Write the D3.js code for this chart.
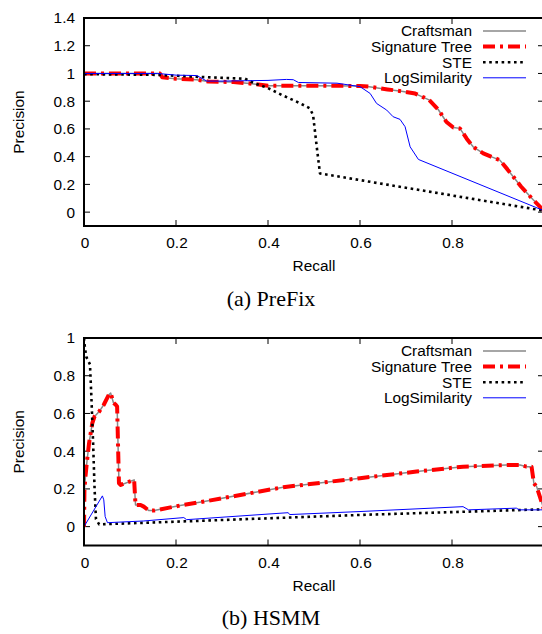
<!DOCTYPE html>
<html>
<head>
<meta charset="utf-8">
<script src="https://cdn.jsdelivr.net/npm/d3@7"></script>
<style>
  body { margin: 0; background: #fff; }
  svg { display: block; }
  text { font-family: "Liberation Sans", Arial, sans-serif; fill: #000; }
  .cap { font-family: "Liberation Serif", "Times New Roman", serif; }
</style>
</head>
<body>
<svg id="chart" width="542" height="634"></svg>
<script>
// ---------- DATA ----------
const seriesNames = ["Craftsman", "Signature Tree", "STE", "LogSimilarity"];
const xTickValues = [0, 0.2, 0.4, 0.6, 0.8];
const yTicksPrefix = [0, 0.2, 0.4, 0.6, 0.8, 1, 1.2, 1.4];
const yTicksHsmm = [0, 0.2, 0.4, 0.6, 0.8, 1];

// (a) PreFix
const prefixRecallCraftsman = [0, 0.165, 0.17, 0.2, 0.245, 0.27, 0.325, 0.36, 0.4, 0.5, 0.6, 0.62, 0.66, 0.69, 0.72, 0.75, 0.77, 0.788, 0.803, 0.817, 0.832, 0.846, 0.868, 0.885, 0.904, 0.925, 0.95, 0.977, 1.0];
const prefixPrecisionCraftsman = [1.0, 1.0, 0.97, 0.962, 0.955, 0.942, 0.938, 0.928, 0.912, 0.912, 0.91, 0.905, 0.885, 0.872, 0.855, 0.81, 0.74, 0.65, 0.61, 0.604, 0.53, 0.471, 0.424, 0.40, 0.375, 0.29, 0.185, 0.087, 0.01];
const prefixRecallSig = [0, 0.165, 0.17, 0.2, 0.245, 0.27, 0.325, 0.36, 0.4, 0.5, 0.6, 0.62, 0.66, 0.69, 0.72, 0.75, 0.77, 0.788, 0.803, 0.817, 0.832, 0.846, 0.868, 0.885, 0.904, 0.925, 0.95, 0.977, 1.0];
const prefixPrecisionSig = [1.0, 1.0, 0.972, 0.962, 0.955, 0.942, 0.938, 0.928, 0.912, 0.912, 0.91, 0.905, 0.885, 0.872, 0.855, 0.81, 0.74, 0.65, 0.61, 0.604, 0.53, 0.471, 0.424, 0.40, 0.375, 0.29, 0.185, 0.087, 0.01];
const prefixRecallSTE = [0, 0.16, 0.25, 0.35, 0.37, 0.40, 0.43, 0.47, 0.491, 0.498, 0.506, 0.513, 1.0];
const prefixPrecisionSTE = [0.995, 0.99, 0.975, 0.962, 0.93, 0.895, 0.845, 0.785, 0.748, 0.70, 0.47, 0.279, 0.01];
const prefixRecallLog = [0, 0.16, 0.2, 0.245, 0.267, 0.3, 0.4, 0.44, 0.455, 0.466, 0.55, 0.6, 0.622, 0.636, 0.658, 0.672, 0.687, 0.698, 0.709, 0.727, 1.0];
const prefixPrecisionLog = [1.0, 1.0, 0.988, 0.985, 0.945, 0.945, 0.95, 0.957, 0.955, 0.935, 0.93, 0.905, 0.856, 0.784, 0.736, 0.688, 0.669, 0.616, 0.471, 0.38, 0.01];

// (b) HSMM
const hsmmRecallCraftsman = [0, 0.001, 0.003, 0.006, 0.011, 0.018, 0.023, 0.033, 0.043, 0.054, 0.058, 0.064, 0.069, 0.072, 0.076, 0.08, 0.109, 0.112, 0.123, 0.13, 0.141, 0.152, 0.209, 0.261, 0.433, 0.6, 0.723, 0.824, 0.918, 0.948, 0.962, 0.973, 0.978, 0.984, 0.991, 1.0];
const hsmmPrecisionCraftsman = [0, 0.2, 0.26, 0.336, 0.442, 0.548, 0.584, 0.61, 0.646, 0.699, 0.708, 0.657, 0.646, 0.637, 0.23, 0.221, 0.248, 0.115, 0.115, 0.106, 0.085, 0.085, 0.112, 0.133, 0.209, 0.257, 0.292, 0.318, 0.327, 0.327, 0.318, 0.318, 0.23, 0.212, 0.159, 0.09];
const hsmmRecallSig = [0, 0.001, 0.003, 0.006, 0.011, 0.018, 0.023, 0.033, 0.043, 0.054, 0.058, 0.064, 0.069, 0.072, 0.076, 0.08, 0.109, 0.112, 0.123, 0.13, 0.141, 0.152, 0.209, 0.261, 0.433, 0.6, 0.723, 0.824, 0.918, 0.948, 0.962, 0.973, 0.978, 0.984, 0.991, 1.0];
const hsmmPrecisionSig = [0, 0.2, 0.26, 0.336, 0.442, 0.548, 0.584, 0.61, 0.646, 0.699, 0.708, 0.657, 0.646, 0.637, 0.23, 0.221, 0.248, 0.115, 0.115, 0.106, 0.085, 0.085, 0.112, 0.133, 0.209, 0.257, 0.292, 0.318, 0.327, 0.327, 0.318, 0.318, 0.23, 0.212, 0.159, 0.09];
const hsmmRecallSTE = [0, 0.002, 0.005, 0.009, 0.013, 0.016, 0.02, 0.023, 0.026, 0.033, 0.209, 0.6, 1.0];
const hsmmPrecisionSTE = [1.0, 0.95, 0.9, 0.88, 0.86, 0.69, 0.43, 0.2, 0.04, 0.012, 0.027, 0.062, 0.092];
const hsmmRecallLog = [0, 0.04, 0.043, 0.046, 0.051, 0.13, 0.217, 0.223, 0.444, 0.447, 0.6, 0.824, 0.836, 0.94, 0.946, 1.0];
const hsmmPrecisionLog = [0, 0.163, 0.142, 0.053, 0.021, 0.03, 0.048, 0.037, 0.074, 0.064, 0.08, 0.106, 0.089, 0.098, 0.089, 0.089];

// ---------- STYLES ----------
const styles = [
  { color: "#888888", width: 1.5, dash: null },
  { color: "#ff0000", width: 4, dash: "12,5,3,5" },
  { color: "#000000", width: 2.6, dash: "2.6,3.6" },
  { color: "#0000ff", width: 1, dash: null }
];

const svg = d3.select("#chart");
const FS = 15.4;

function zip(xs, ys) { return xs.map((x, i) => [x, ys[i]]); }

function panel(cfg) {
  const x = d3.scaleLinear().domain([0, 1]).range([84, 544]);
  const y = d3.scaleLinear().domain(cfg.yDomain).range([cfg.bottom, cfg.top]);
  const g = svg.append("g");
  const clipId = "clip" + cfg.id;
  g.append("clipPath").attr("id", clipId).append("rect")
    .attr("x", 84).attr("y", cfg.top).attr("width", 460).attr("height", cfg.bottom - cfg.top);

  // ticks (inward, all four sides)
  const tl = 6;
  cfg.yTicks.forEach(v => {
    g.append("line").attr("x1", 84).attr("x2", 84 + tl).attr("y1", y(v)).attr("y2", y(v)).attr("stroke", "#000").attr("stroke-width", 1);
    g.append("line").attr("x1", 544 - tl).attr("x2", 544).attr("y1", y(v)).attr("y2", y(v)).attr("stroke", "#000").attr("stroke-width", 1);
    g.append("text").attr("x", 75).attr("y", y(v)).attr("dy", "0.35em").attr("text-anchor", "end")
      .attr("font-size", FS).text(d3.format("~g")(v));
  });
  xTickValues.forEach(v => {
    g.append("line").attr("x1", x(v)).attr("x2", x(v)).attr("y1", cfg.bottom).attr("y2", cfg.bottom - tl).attr("stroke", "#000").attr("stroke-width", 1);
    g.append("line").attr("x1", x(v)).attr("x2", x(v)).attr("y1", cfg.top).attr("y2", cfg.top + tl).attr("stroke", "#000").attr("stroke-width", 1);
    g.append("text").attr("x", x(v) + 1).attr("y", cfg.bottom + 17).attr("dy", "0.35em").attr("text-anchor", "middle")
      .attr("font-size", FS).text(d3.format("~g")(v));
  });

  // series
  const line = d3.line().x(d => x(d[0])).y(d => y(d[1]));
  const lg = g.append("g").attr("clip-path", `url(#${clipId})`);
  cfg.series.forEach((s, i) => {
    const st = styles[i];
    lg.append("path").datum(zip(s[0], s[1]))
      .attr("d", line).attr("fill", "none")
      .attr("stroke", st.color).attr("stroke-width", st.width)
      .attr("stroke-dasharray", st.dash)
      .attr("stroke-linejoin", "round");
  });

  // frame
  g.append("rect").attr("x", 84).attr("y", cfg.top).attr("width", 460).attr("height", cfg.bottom - cfg.top)
    .attr("fill", "none").attr("stroke", "#000").attr("stroke-width", 2);

  // legend
  seriesNames.forEach((name, i) => {
    const ly = cfg.legendTop + i * 15.6;
    g.append("text").attr("x", 472).attr("y", ly).attr("dy", "0.35em").attr("text-anchor", "end")
      .attr("font-size", FS).text(name);
    const st = styles[i];
    g.append("line").attr("x1", 483).attr("x2", 526).attr("y1", ly).attr("y2", ly)
      .attr("stroke", st.color).attr("stroke-width", st.width).attr("stroke-dasharray", st.dash);
  });

  // axis titles
  g.append("text").attr("transform", `translate(23.5,${(cfg.top + cfg.bottom) / 2}) rotate(-90)`)
    .attr("text-anchor", "middle").attr("font-size", FS).text("Precision");
  g.append("text").attr("x", 314).attr("y", cfg.bottom + 40).attr("dy", "0.35em").attr("text-anchor", "middle")
    .attr("font-size", FS).text("Recall");
  g.append("text").attr("class", "cap").attr("x", 271).attr("y", cfg.bottom + 72).attr("dy", "0.35em")
    .attr("text-anchor", "middle").attr("font-size", 22).text(cfg.caption);
}

panel({
  id: "a", top: 18, bottom: 226, yDomain: [-0.1, 1.4], yTicks: yTicksPrefix, legendTop: 31,
  caption: "(a) PreFix",
  series: [
    [prefixRecallCraftsman, prefixPrecisionCraftsman],
    [prefixRecallSig, prefixPrecisionSig],
    [prefixRecallSTE, prefixPrecisionSTE],
    [prefixRecallLog, prefixPrecisionLog]
  ]
});
panel({
  id: "b", top: 338, bottom: 545.5, yDomain: [-0.1, 1], yTicks: yTicksHsmm, legendTop: 351,
  caption: "(b) HSMM",
  series: [
    [hsmmRecallCraftsman, hsmmPrecisionCraftsman],
    [hsmmRecallSig, hsmmPrecisionSig],
    [hsmmRecallSTE, hsmmPrecisionSTE],
    [hsmmRecallLog, hsmmPrecisionLog]
  ]
});
</script>
</body>
</html>
